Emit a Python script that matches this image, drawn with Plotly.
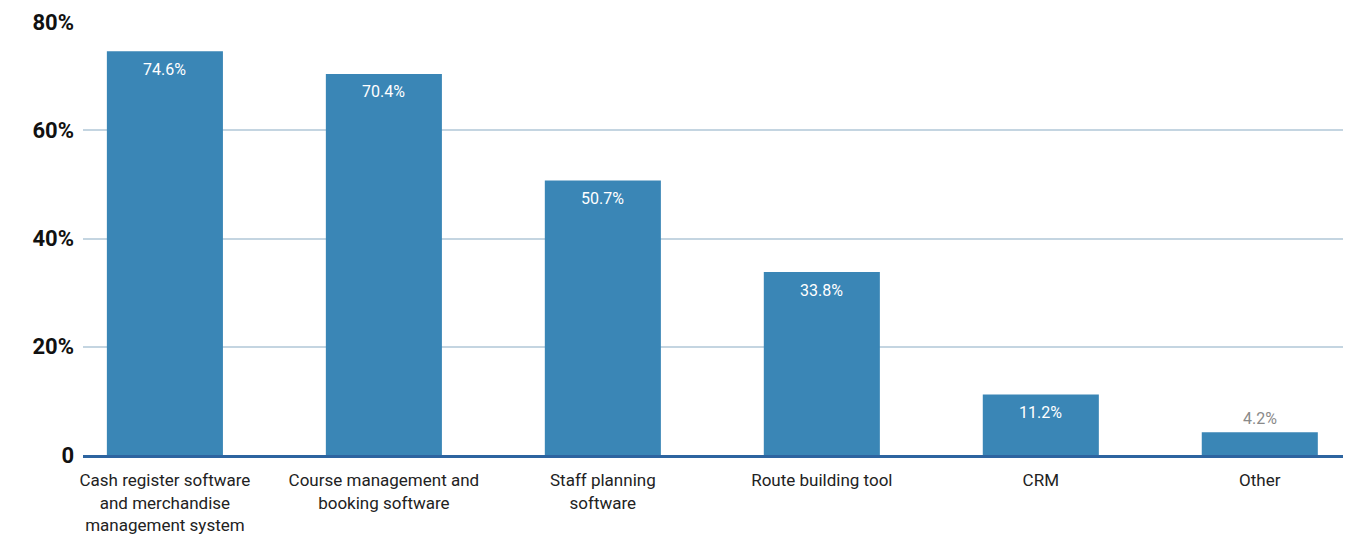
import plotly.graph_objects as go

categories = ["Cash register software<br>and merchandise<br>management system",
              "Course management and<br>booking software",
              "Staff planning<br>software",
              "Route building tool",
              "CRM",
              "Other"]
values = [74.6, 70.4, 50.7, 33.8, 11.2, 4.2]
labels = ["74.6%", "70.4%", "50.7%", "33.8%", "11.2%", "4.2%"]
y_tickvals = [0, 20, 40, 60, 80]
y_ticktext = ["0", "20%", "40%", "60%", "80%"]

x = list(range(len(categories)))

fig = go.Figure()
fig.add_trace(go.Bar(
    x=x, y=values, width=0.53,
    marker=dict(color="#3a86b6", line=dict(width=0)),
    hoverinfo="skip",
))

for i, (v, lab) in enumerate(zip(values, labels)):
    inside = v > 8
    fig.add_annotation(
        x=i, y=v, text=lab, showarrow=False,
        yshift=-18 if inside else 14,
        font=dict(family="Roboto", size=16, color="#ffffff" if inside else "#8a8a8a"),
    )

fig.update_layout(
    width=1358, height=536,
    margin=dict(l=83, r=15, t=22, b=81),
    plot_bgcolor="white", paper_bgcolor="white",
    showlegend=False,
    bargap=0.47,
)
fig.update_xaxes(
    range=[-0.374, 5.38],
    tickvals=x, ticktext=categories,
    tickfont=dict(family="Roboto", size=17, color="#222222"),
    showgrid=False, zeroline=False,
    showline=True, linecolor="#2d64a0", linewidth=3,
    ticks="", ticklen=0,
    ticklabelstandoff=8,
    automargin=False,
)
fig.update_yaxes(
    range=[0, 80],
    tickvals=y_tickvals, ticktext=y_ticktext,
    tickfont=dict(family="Roboto", size=22, color="#111111", weight="bold"),
    showgrid=True, gridcolor="#c4d5e1", gridwidth=1.5,
    zeroline=False, showline=False, ticks="", ticklen=0,
    ticklabelstandoff=8,
    automargin=False,
)
fig.write_html("out.html",
               config={"displayModeBar": False},
               post_script="document.body.style.margin='0';document.body.style.overflow='hidden';")
